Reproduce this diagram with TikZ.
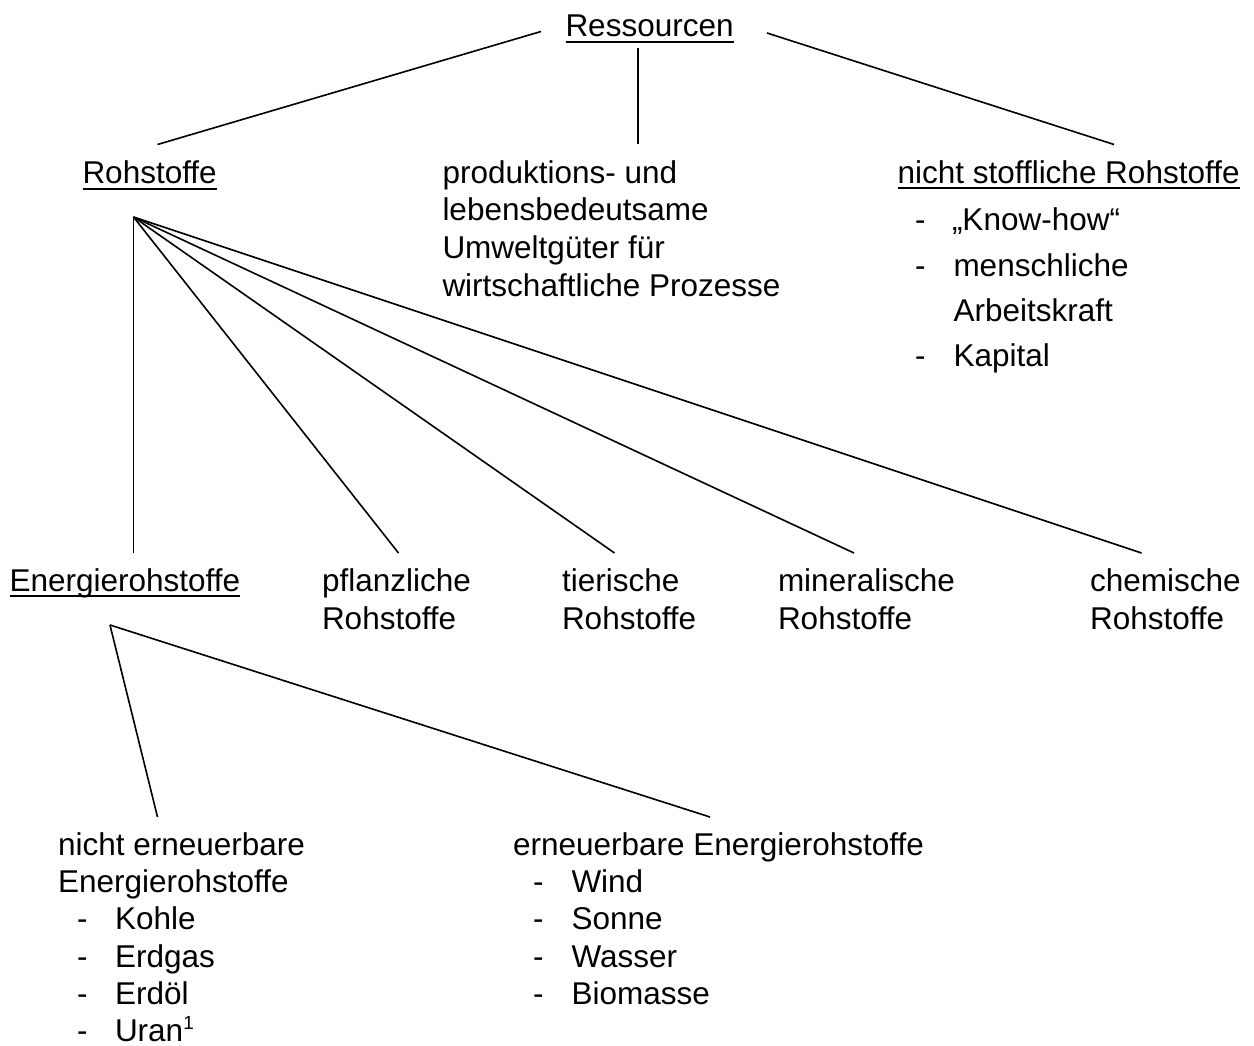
\documentclass[tikz,border=0pt]{standalone}
\usepackage{fontspec}
\setmainfont{Liberation Sans}[Ligatures=NoCommon]
\begin{document}
\begin{tikzpicture}[x=1pt,y=-1pt,
  txt/.style={anchor=base west, inner sep=0pt, outer sep=0pt, font=\fontsize{31.5}{37.5}\selectfont},
  conn/.style={line width=1.6pt},
  ul/.style={line width=2pt}]
\useasboundingbox[fill=white] (0,0) rectangle (1254,1046);

% top
\node[txt] (res) at (565.5,37) {Ressourcen};
\node[txt] (roh) at (82.5,184) {Rohstoffe};
\node[txt] (prod1) at (442.5,183.5) {produktions- und};
\node[txt] (prod2) at (442.5,221) {lebensbedeutsame};
\node[txt] (prod3) at (442.5,258.5) {Umweltgüter für};
\node[txt] (prod4) at (442.5,296) {wirtschaftliche Prozesse};
\node[txt] (nsr) at (897.5,183.5) {nicht stoffliche Rohstoffe};
\node[txt] (d1) at (915,230.7) {-};
\node[txt] (k1) at (952,230.7) {„Know-how“};
\node[txt] (d2) at (915,276.7) {-};
\node[txt] (k2) at (953.5,276.7) {menschliche};
\node[txt] (k3) at (953.5,321.7) {Arbeitskraft};
\node[txt] (d4) at (915,366.7) {-};
\node[txt] (k4) at (953.5,366.7) {Kapital};

% second level
\node[txt] (ener) at (9.5,591.7) {Energierohstoffe};
\node[txt] (pfl) at (322,591.7) {pflanzliche};
\node[txt] (pfl2) at (322,629.2) {Rohstoffe};
\node[txt] (tie) at (562,591.7) {tierische};
\node[txt] (tie2) at (562,629.2) {Rohstoffe};
\node[txt] (min) at (778,591.7) {mineralische};
\node[txt] (min2) at (778,629.2) {Rohstoffe};
\node[txt] (che) at (1090,591.7) {chemische};
\node[txt] (che2) at (1090,629.2) {Rohstoffe};

% third level
\node[txt] (ne1) at (58,855) {nicht erneuerbare};
\node[txt] (ne2) at (58,892.3) {Energierohstoffe};
\foreach \n/\t [count=\i] in {Kohle,Erdgas,Erdöl,Uran{\fontsize{19}{19}\selectfont\raisebox{12pt}{1}}} {
  \node[txt] (ned\i) at (77,892.3+37.35*\i) {-};
  \node[txt] (nei\i) at (115,892.3+37.35*\i) {\n};
}
\node[txt] (er1) at (513,855) {erneuerbare Energierohstoffe};
\foreach \n [count=\i] in {Wind,Sonne,Wasser,Biomasse} {
  \node[txt] (erd\i) at (533,855+37.35*\i) {-};
  \node[txt] (eri\i) at (571.5,855+37.35*\i) {\n};
}

% underlines
\foreach \n in {res,roh,nsr,ener}
  \draw[ul] ([yshift=-4.6pt]\n.base west) -- ([yshift=-4.6pt]\n.base east);

% connector points
\coordinate (resL) at (541,31.5);
\coordinate (resM) at (638,48);
\coordinate (resR) at (767,33);
\coordinate (rohT) at (157.5,144.5);
\coordinate (prodT) at (638,144.5);
\coordinate (nsrT) at (1114,144.5);
\coordinate (rohB) at (133.5,217);
\coordinate (enerT) at (133.5,553);
\coordinate (pflT) at (398.5,553);
\coordinate (tieT) at (614.5,553);
\coordinate (minT) at (854,553);
\coordinate (cheT) at (1141.5,553);
\coordinate (enerB) at (110,625);
\coordinate (neT) at (157.5,817);
\coordinate (erT) at (710,817);

\draw[conn] (resL) -- (rohT);
\draw[conn] (resM) -- (prodT);
\draw[conn] (resR) -- (nsrT);
\foreach \e in {enerT,pflT,tieT,minT,cheT}
  \draw[conn] (rohB) -- (\e);
\draw[conn] (enerB) -- (neT);
\draw[conn] (enerB) -- (erT);
\end{tikzpicture}
\end{document}
